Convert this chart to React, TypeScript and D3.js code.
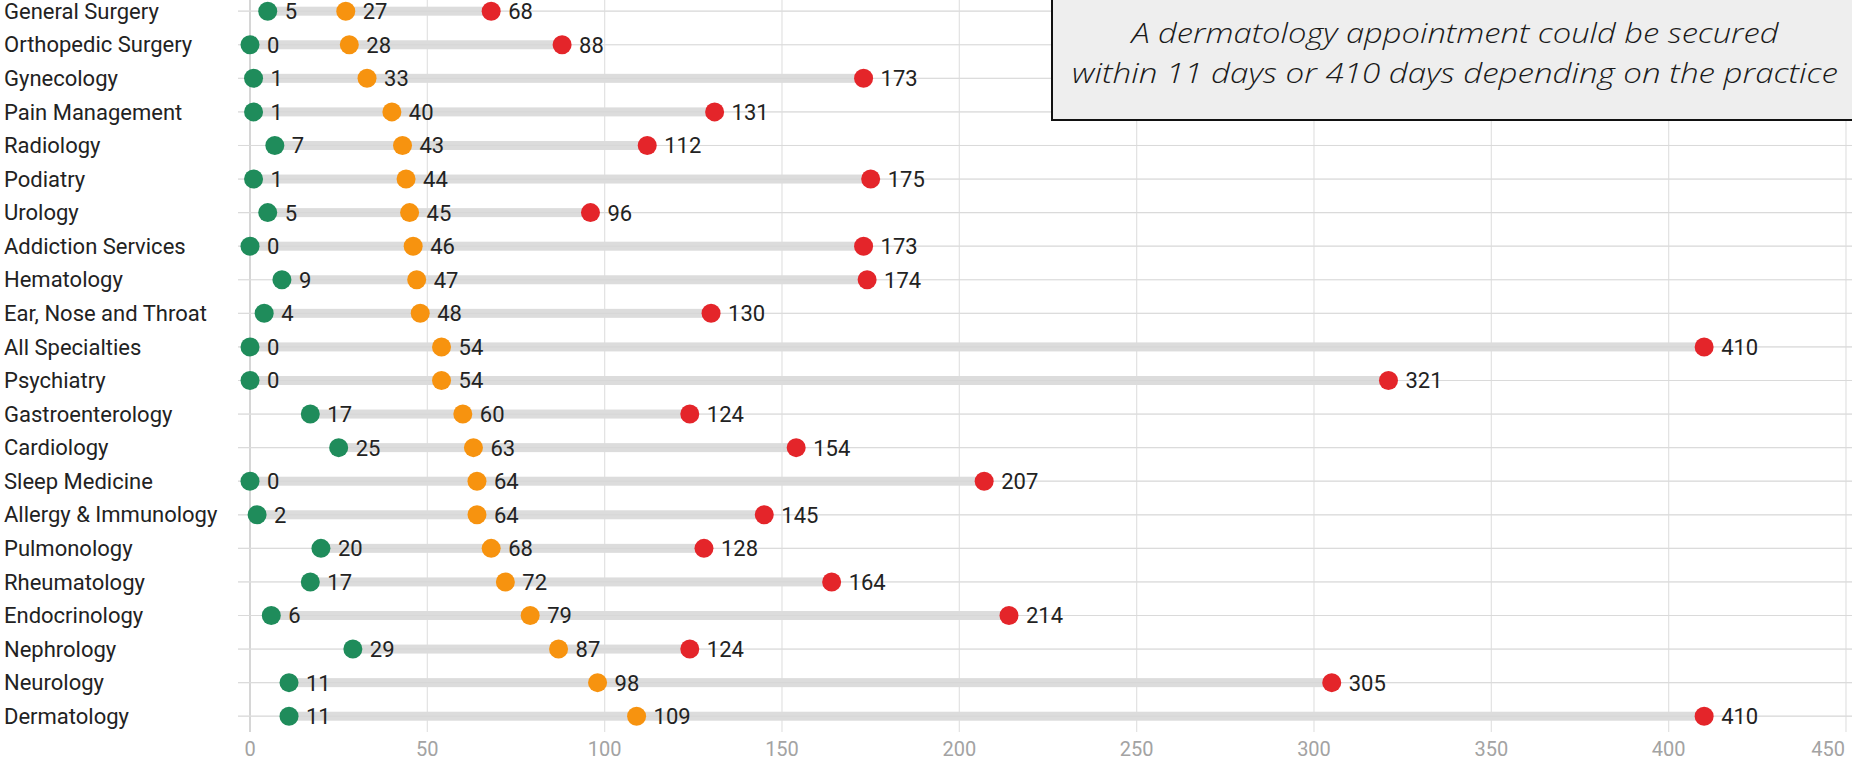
import React from 'react';
import * as d3 from 'd3';

const categories = [
  'General Surgery', 'Orthopedic Surgery', 'Gynecology', 'Pain Management', 'Radiology',
  'Podiatry', 'Urology', 'Addiction Services', 'Hematology', 'Ear, Nose and Throat',
  'All Specialties', 'Psychiatry', 'Gastroenterology', 'Cardiology', 'Sleep Medicine',
  'Allergy & Immunology', 'Pulmonology', 'Rheumatology', 'Endocrinology', 'Nephrology',
  'Neurology', 'Dermatology',
];
const minDays = [5, 0, 1, 1, 7, 1, 5, 0, 9, 4, 0, 0, 17, 25, 0, 2, 20, 17, 6, 29, 11, 11];
const avgDays = [27, 28, 33, 40, 43, 44, 45, 46, 47, 48, 54, 54, 60, 63, 64, 64, 68, 72, 79, 87, 98, 109];
const maxDays = [68, 88, 173, 131, 112, 175, 96, 173, 174, 130, 410, 321, 124, 154, 207, 145, 128, 164, 214, 124, 305, 410];
const xTicks = [0, 50, 100, 150, 200, 250, 300, 350, 400, 450];
const noteLines = [
  'A dermatology appointment could be secured',
  'within 11 days or 410 days depending on the practice',
];
const noteWidths = [647, 766];

const W = 1852;
const H = 764;
const GREEN = '#1f8c5b';
const ORANGE = '#f7930f';
const RED = '#e4252a';

export default function App() {
  const x = d3.scaleLinear().domain([0, 450]).range([250, 1846]);
  const y = d3.scaleBand().domain(categories).range([-5.6, 733]);
  const half = y.bandwidth() / 2;
  const cy = (c: string) => (y(c) as number) + half;
  const plotBottom = 732;

  const dots = [
    { vals: minDays, color: GREEN },
    { vals: avgDays, color: ORANGE },
    { vals: maxDays, color: RED },
  ];

  return (
    <div style={{ position: 'absolute', left: 0, top: 0 }}>
      <svg width={W} height={H} style={{ display: 'block', fontFamily: 'Roboto, sans-serif' }}>
        <rect width={W} height={H} fill="#fff" />
        {/* vertical grid */}
        {xTicks.map(t => (
          <line key={'v' + t} x1={x(t)} x2={x(t)} y1={0} y2={plotBottom}
            stroke={t === 0 ? '#c8c8c8' : '#e2e2e2'} strokeWidth={t === 0 ? 1.5 : 1.2} />
        ))}
        {/* horizontal grid */}
        {categories.map(c => (
          <line key={'h' + c} x1={238} x2={W} y1={cy(c)} y2={cy(c)} stroke="#e4e4e4" strokeWidth={1.2} />
        ))}
        {/* range bars */}
        {categories.map((c, i) => (
          <rect key={'b' + c} x={x(minDays[i])} y={cy(c) - 4.5}
            width={x(maxDays[i]) - x(minDays[i])} height={9} fill="#dcdcdc" />
        ))}
        {categories.map(c => (
          <line key={'hc' + c} x1={238} x2={W} y1={cy(c)} y2={cy(c)} stroke="#d4d4d4" strokeWidth={1} opacity={0.6} />
        ))}
        {/* category labels */}
        {categories.map(c => (
          <text key={'l' + c} x={4} y={cy(c)} dy="0.35em" fontSize={22} fill="#222">{c}</text>
        ))}
        {/* dots and values */}
        {dots.map((s, si) =>
          categories.map((c, i) => (
            <g key={'d' + si + c}>
              <circle cx={x(s.vals[i])} cy={cy(c)} r={9.5} fill={s.color} />
              <text x={x(s.vals[i]) + 17} y={cy(c)} dy="0.36em" fontSize={22} fill="#222">{s.vals[i]}</text>
            </g>
          ))
        )}
        {/* x axis labels */}
        {xTicks.map((t, i) => {
          const last = i === xTicks.length - 1;
          return (
            <text key={'t' + t} x={last ? 1845 : x(t)} y={749} dy="0.35em" textAnchor={last ? 'end' : 'middle'}
              fontSize={20} fill="#a3a3a3">{t}</text>
          );
        })}
        {/* annotation box */}
        <rect x={1052} y={-10} width={830} height={130} fill="#eeeeee" stroke="#111" strokeWidth={2} />
        {noteLines.map((ln, i) => (
          <text key={'n' + i} x={1455} y={33 + i * 40} dy="0.35em" textAnchor="middle"
            textLength={noteWidths[i]} lengthAdjust="spacingAndGlyphs"
            fontFamily="'Open Sans', sans-serif" fontStyle="italic" fontWeight={300} fontSize={28} fill="#1a1a1a">{ln}</text>
        ))}
      </svg>
    </div>
  );
}
